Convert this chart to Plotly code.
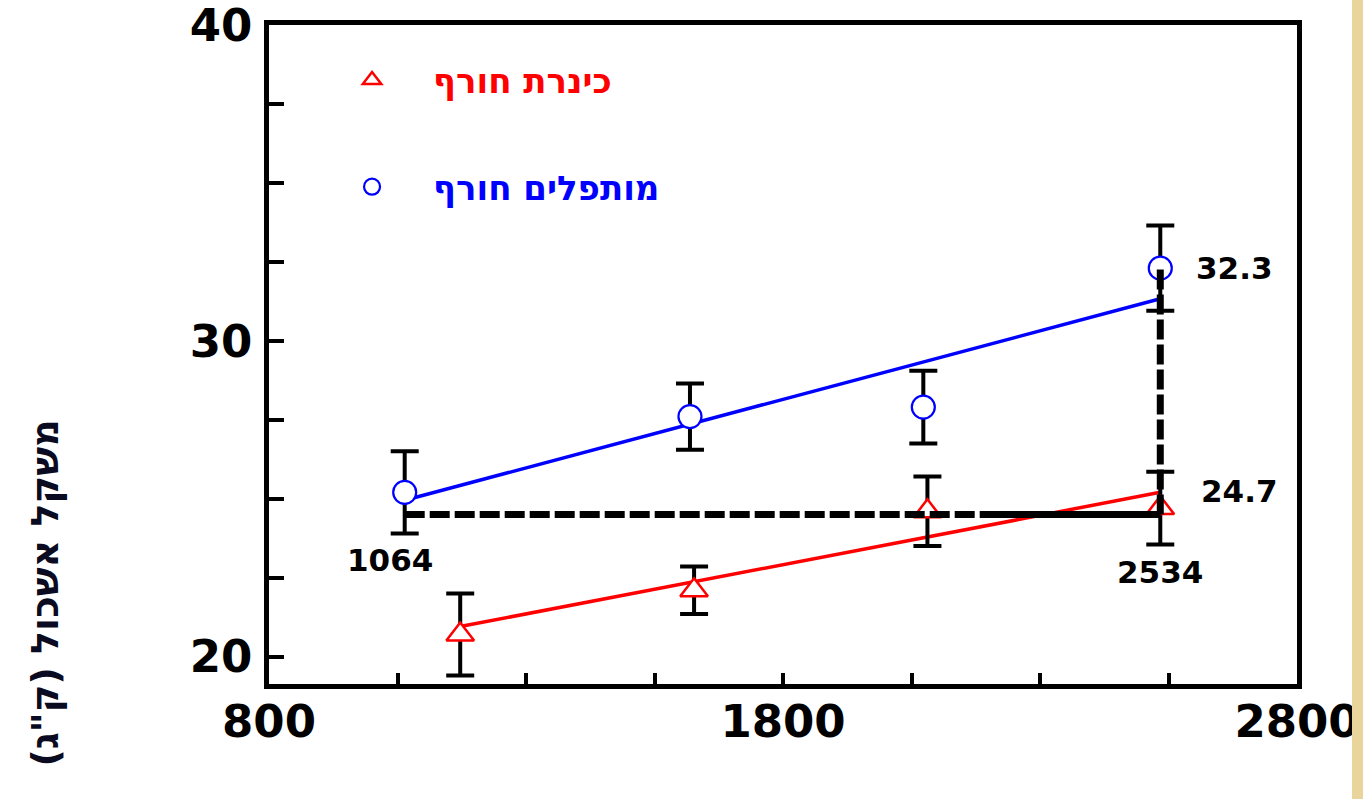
import plotly.graph_objects as go

# ---- data ----
blue_x = [1064, 1619, 2073, 2534]
blue_y = [25.2, 27.6, 27.9, 32.3]
blue_err = [1.3, 1.05, 1.15, 1.35]

red_x = [1172, 1627, 2081, 2534]
red_y = [20.7, 22.1, 24.6, 24.7]
red_err = [1.3, 0.75, 1.1, 1.15]

blue_fit_x = [1064, 2534]
blue_fit_y = [24.95, 31.33]
red_fit_x = [1172, 2534]
red_fit_y = [20.95, 25.2]

ref_h_x = [1064, 2534]
ref_h_y = [24.5, 24.5]
ref_v_x = [2534, 2534]
ref_v_y = [24.5, 32.3]
ref_solid_x = [2200, 2534]
ref_solid_y = [24.5, 24.5]

series_names = ["כינרת חורף", "מותפלים חורף"]
y_title = 'משקל אשכול (ק"ג)\u200f'
x_tickvals = [800, 1800, 2800]
y_tickvals = [20, 30, 40]

BLUE = "#0000FF"
RED = "#FF0000"
FONT = "DejaVu Sans"

fig = go.Figure()

# regression lines
fig.add_trace(go.Scatter(x=blue_fit_x, y=blue_fit_y, mode="lines",
                         line=dict(color=BLUE, width=3.5), showlegend=False, hoverinfo="skip"))
fig.add_trace(go.Scatter(x=red_fit_x, y=red_fit_y, mode="lines",
                         line=dict(color=RED, width=3.5), showlegend=False, hoverinfo="skip"))

# measured points with error bars
fig.add_trace(go.Scatter(
    x=red_x, y=red_y, mode="markers", name=series_names[0], legend="legend",
    marker=dict(symbol="triangle-up", size=24, color="white", line=dict(color=RED, width=2.5)),
    error_y=dict(type="data", array=red_err, color="black", thickness=4, width=14),
))
fig.add_trace(go.Scatter(
    x=blue_x, y=blue_y, mode="markers", name=series_names[1], legend="legend2",
    marker=dict(symbol="circle", size=23, color="white", line=dict(color=BLUE, width=2.2)),
    error_y=dict(type="data", array=blue_err, color="black", thickness=4, width=14),
))

# black reference lines
fig.add_trace(go.Scatter(x=ref_h_x, y=ref_h_y, mode="lines",
                         line=dict(color="black", width=7, dash="20px,5px"),
                         showlegend=False, hoverinfo="skip"))
fig.add_trace(go.Scatter(x=ref_solid_x, y=ref_solid_y, mode="lines",
                         line=dict(color="black", width=7),
                         showlegend=False, hoverinfo="skip"))
fig.add_trace(go.Scatter(x=ref_v_x, y=ref_v_y, mode="lines",
                         line=dict(color="black", width=7, dash="20px,5px"),
                         showlegend=False, hoverinfo="skip"))

lab_font = dict(family=FONT, size=31, color="black", weight="bold")
annotations = [
    dict(x=blue_x[0], y=ref_h_y[0], text=f"{blue_x[0]}", showarrow=False,
         xanchor="center", yanchor="middle", xshift=-15, yshift=-46, font=lab_font),
    dict(x=blue_x[-1], y=ref_h_y[-1], text=f"{blue_x[-1]}", showarrow=False,
         xanchor="center", yanchor="middle", xshift=0, yshift=-58, font=lab_font),
    dict(x=blue_x[-1], y=blue_y[-1], text=f"{blue_y[-1]}", showarrow=False,
         xanchor="left", yanchor="middle", xshift=34, yshift=0, font=lab_font),
    dict(x=red_x[-1], y=red_y[-1], text=f"{red_y[-1]}", showarrow=False,
         xanchor="left", yanchor="middle", xshift=39, yshift=17, font=lab_font),
    dict(x=-0.2179, y=0.405, xref="paper", yref="paper", text=y_title, textangle=-90,
         showarrow=False, xanchor="center", yanchor="top",
         font=dict(family=FONT, size=38, color="#0a0a20", weight="bold")),
]

axis_common = dict(
    showline=True, linecolor="black", linewidth=4.5, mirror=True,
    ticks="inside", tickcolor="black", tickwidth=4,
    showgrid=False, zeroline=False, automargin=False, ticklabeloverflow="allow",
    tickfont=dict(family=FONT, size=45, color="black", weight="bold"),
)

fig.update_layout(
    template="none",
    width=1363, height=799,
    margin=dict(l=269, r=66, t=25, b=115),
    paper_bgcolor="white", plot_bgcolor="white",
    xaxis=dict(range=[800, 2800], tickvals=x_tickvals, ticklen=11,
               minor=dict(dtick=250, tick0=800, ticks="inside", ticklen=11, tickwidth=4, tickcolor="black"),
               ticklabelstandoff=-6, **axis_common),
    yaxis=dict(range=[19.13, 40], tickvals=y_tickvals, ticklen=15,
               minor=dict(dtick=2.5, tick0=20, ticks="inside", ticklen=15, tickwidth=4, tickcolor="black"),
               ticklabelstandoff=3, **axis_common),
    legend=dict(x=0.0409, y=0.916, xanchor="left", yanchor="middle", itemwidth=112,
                bgcolor="rgba(0,0,0,0)", borderwidth=0,
                font=dict(family=FONT, size=34, color=RED, weight="bold")),
    legend2=dict(x=0.0409, y=0.754, xanchor="left", yanchor="middle", itemwidth=112,
                 bgcolor="rgba(0,0,0,0)", borderwidth=0,
                 font=dict(family=FONT, size=34, color=BLUE, weight="bold")),
    annotations=annotations,
    shapes=[dict(type="rect", xref="paper", yref="paper", x0=1.0535, x1=1.1, y0=-0.3, y1=1.1,
                 fillcolor="#E9D49B", line=dict(width=0), layer="above")],
)

# remove the default 8px page margin so the figure fills the window exactly
fig.write_html("out.html", config={"displayModeBar": False},
               post_script="document.body.style.margin='0';")
